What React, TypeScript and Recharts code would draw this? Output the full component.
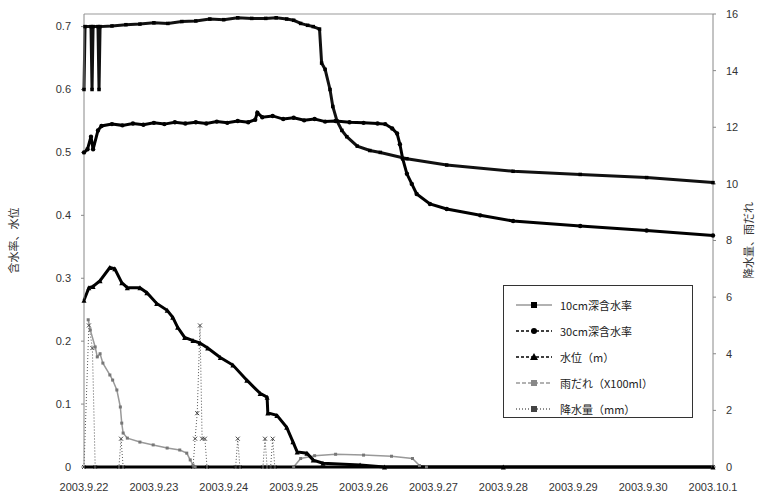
import { ComposedChart, Line, XAxis, YAxis, ReferenceLine } from 'recharts'

// x = days since 2003.9.22 0:00
const xTickLabels = [
  '2003.9.22', '2003.9.23', '2003.9.24', '2003.9.25', '2003.9.26',
  '2003.9.27', '2003.9.28', '2003.9.29', '2003.9.30', '2003.10.1',
]
const dayTicks = [0, 1, 2, 3, 4, 5, 6, 7, 8, 9]
const leftTicks = [0, 0.1, 0.2, 0.3, 0.4, 0.5, 0.6, 0.7]
const rightTicks = [0, 2, 4, 6, 8, 10, 12, 14, 16]

// 10cm深含水率 (left axis)
const moisture10: [number, number][] = [
  [0, 0.6], [0.015, 0.7], [0.1, 0.7], [0.115, 0.6], [0.13, 0.7], [0.2, 0.7], [0.215, 0.6],
  [0.23, 0.7], [0.4, 0.701], [0.6, 0.703], [0.8, 0.704], [1.0, 0.706], [1.2, 0.705],
  [1.4, 0.708], [1.6, 0.709], [1.8, 0.712], [2.0, 0.711], [2.2, 0.714], [2.4, 0.713],
  [2.6, 0.713], [2.75, 0.714], [2.9, 0.712], [3.0, 0.71], [3.1, 0.705], [3.2, 0.702],
  [3.28, 0.7], [3.37, 0.696], [3.4, 0.642], [3.45, 0.632], [3.52, 0.6], [3.56, 0.573],
  [3.62, 0.55], [3.69, 0.535], [3.76, 0.525], [3.91, 0.51], [4.09, 0.503], [4.24, 0.5],
  [4.62, 0.49], [5.19, 0.48], [6.14, 0.47], [7.1, 0.465], [8.05, 0.46], [9.0, 0.452],
]

// 30cm深含水率 (left axis)
const moisture30: [number, number][] = [
  [0, 0.5], [0.05, 0.505], [0.1, 0.525], [0.13, 0.505], [0.2, 0.535], [0.25, 0.542],
  [0.4, 0.545], [0.55, 0.543], [0.7, 0.546], [0.85, 0.544], [1.0, 0.547], [1.15, 0.545],
  [1.3, 0.548], [1.45, 0.546], [1.6, 0.548], [1.75, 0.546], [1.9, 0.549], [2.05, 0.547],
  [2.2, 0.55], [2.35, 0.548], [2.45, 0.552], [2.48, 0.563], [2.55, 0.556], [2.7, 0.558],
  [2.85, 0.553], [3.0, 0.555], [3.15, 0.551], [3.3, 0.553], [3.45, 0.549], [3.6, 0.55],
  [3.8, 0.548], [4.0, 0.547], [4.2, 0.546], [4.31, 0.545], [4.41, 0.538], [4.48, 0.53],
  [4.52, 0.513], [4.56, 0.49], [4.62, 0.466], [4.69, 0.45], [4.76, 0.434], [4.95, 0.418],
  [5.19, 0.41], [5.67, 0.4], [6.14, 0.391], [7.1, 0.383], [8.05, 0.376], [9.0, 0.368],
]

// 水位（m） (left axis)
const waterLevel: [number, number][] = [
  [0, 0.265], [0.07, 0.285], [0.13, 0.287], [0.23, 0.296], [0.37, 0.317], [0.44, 0.315],
  [0.54, 0.293], [0.62, 0.285], [0.8, 0.285], [0.9, 0.277], [1.04, 0.26], [1.19, 0.249],
  [1.27, 0.238], [1.34, 0.222], [1.44, 0.206], [1.56, 0.201], [1.66, 0.197], [1.77, 0.189],
  [1.95, 0.174], [2.13, 0.162], [2.33, 0.138], [2.52, 0.117], [2.62, 0.111], [2.63, 0.086],
  [2.76, 0.082], [2.9, 0.063], [2.99, 0.04], [3.05, 0.024], [3.19, 0.022], [3.28, 0.011],
  [3.42, 0.006], [3.95, 0.003], [4.3, 0], [6.0, 0], [9.0, 0],
]

// 雨だれ（X100ml） (right axis)
const dripWater: [number, number][] = [
  [0.06, 5.2], [0.09, 4.84], [0.16, 4.24], [0.19, 3.89], [0.23, 4.0], [0.27, 3.67],
  [0.37, 3.25], [0.41, 3.07], [0.47, 2.72], [0.52, 2.12], [0.54, 1.55], [0.56, 1.2],
  [0.62, 1.02], [0.8, 0.88], [0.99, 0.78], [1.19, 0.67], [1.37, 0.6], [1.47, 0.49],
  [1.52, 0.25], [1.56, 0.07], [1.59, 0], [3.0, 0], [3.1, 0.3], [3.3, 0.4], [3.6, 0.45],
  [4.0, 0.42], [4.4, 0.38], [4.7, 0.3], [4.8, 0.05], [4.9, 0], [9.0, 0],
]

// 降水量（mm） (right axis)
const rainfall: [number, number][] = [
  [0, 0], [0.07, 5.0], [0.12, 4.2], [0.16, 0], [0.5, 0], [0.53, 1.0], [0.56, 0],
  [1.56, 0], [1.59, 1.0], [1.62, 1.9], [1.66, 5.0], [1.69, 1.0], [1.73, 1.0], [1.76, 0],
  [2.17, 0], [2.2, 1.0], [2.23, 0], [2.56, 0], [2.59, 1.0], [2.62, 0], [2.67, 0],
  [2.7, 1.0], [2.73, 0], [9.0, 0],
]

const rows = (pts: [number, number][]) => pts.map(([d, v]) => ({ d, v }))

const square = (size: number, fill: string) => (p: any) => (
  <rect key={`s${p.index}`} x={p.cx - size / 2} y={p.cy - size / 2} width={size} height={size} fill={fill} />
)
const circle = (r: number, fill: string) => (p: any) => (
  <circle key={`c${p.index}`} cx={p.cx} cy={p.cy} r={r} fill={fill} />
)
const triangle = (s: number, fill: string) => (p: any) => (
  <path key={`t${p.index}`} d={`M${p.cx},${p.cy - s} L${p.cx + s},${p.cy + s} L${p.cx - s},${p.cy + s}Z`} fill={fill} />
)
const cross = (s: number, stroke: string) => (p: any) => (
  <path key={`x${p.index}`} d={`M${p.cx - s},${p.cy - s} L${p.cx + s},${p.cy + s} M${p.cx - s},${p.cy + s} L${p.cx + s},${p.cy - s}`} stroke={stroke} strokeWidth={1} />
)

const legendItems = [
  { name: '10cm深含水率', line: '#999', dash: undefined, mark: 'square', mc: '#000' },
  { name: '30cm深含水率', line: '#000', dash: '3 2', mark: 'circle', mc: '#000' },
  { name: '水位（m）', line: '#000', dash: '3 2', mark: 'triangle', mc: '#000' },
  { name: '雨だれ（X100ml）', line: '#999', dash: '4 2', mark: 'square', mc: '#888' },
  { name: '降水量（mm）', line: '#666', dash: '1 2', mark: 'square', mc: '#444' },
]

function LegendBox() {
  return (
    <div style={{
      position: 'absolute', left: 503, top: 285,
      border: '1px solid #333', background: '#fff', width: 190, height: 133,
      boxSizing: 'border-box', padding: '6px 0 0 10px',
      fontFamily: '"Noto Sans CJK JP", "Noto Sans", sans-serif', fontSize: 11, color: '#222',
    }}>
      {legendItems.map((it) => (
        <div key={it.name} style={{ display: 'flex', alignItems: 'center', height: 26 }}>
          <svg width={40} height={10} style={{ marginRight: 6 }}>
            <line x1={2} y1={5} x2={38} y2={5} stroke={it.line} strokeWidth={1.5} strokeDasharray={it.dash} />
            {it.mark === 'square' && <rect x={17} y={2} width={6} height={6} fill={it.mc} />}
            {it.mark === 'circle' && <circle cx={20} cy={5} r={3} fill={it.mc} />}
            {it.mark === 'triangle' && <path d="M20,1 L24,8 L16,8Z" fill={it.mc} />}
          </svg>
          <span>{it.name}</span>
        </div>
      ))}
    </div>
  )
}

const tickStyle = { fontSize: 11, fill: '#333', fontFamily: '"Liberation Sans", Arial, sans-serif' }
const titleStyle = { fontSize: 11, fill: '#333', fontFamily: '"Noto Sans CJK JP", sans-serif' }

export default function App() {
  return (
    <div style={{ position: 'absolute', left: 0, top: 0, width: 769, height: 495, background: '#fff' }}>
      <ComposedChart width={769} height={495} margin={{ top: 14, right: 0, left: 0, bottom: 0 }}>
        <XAxis
          xAxisId="x"
          type="number"
          dataKey="d"
          domain={[0, 9]}
          ticks={dayTicks}
          tickFormatter={(v: number) => xTickLabels[v] ?? ''}
          tick={tickStyle}
          height={28}
          tickSize={0}
          tickMargin={16}
          axisLine={{ stroke: '#000', strokeWidth: 3 }}
          interval={0}
        />
        <YAxis
          yAxisId="left"
          type="number"
          domain={[0, 0.72]}
          ticks={leftTicks}
          width={84}
          tick={tickStyle}
          tickSize={3}
          tickMargin={10}
          tickFormatter={(v: number) => (v === 0 ? '0' : v.toFixed(1))}
          axisLine={{ stroke: '#888' }}
          tickLine={{ stroke: '#888' }}
          label={{ value: '含水率、水位', angle: -90, position: 'center', dx: -28, style: titleStyle }}
        />
        <YAxis
          yAxisId="right"
          orientation="right"
          type="number"
          domain={[0, 16]}
          ticks={rightTicks}
          width={56}
          tick={tickStyle}
          tickSize={3}
          tickMargin={10}
          axisLine={{ stroke: '#888' }}
          tickLine={{ stroke: '#888' }}
          label={{ value: '降水量、雨だれ', angle: -90, position: 'center', dx: 8, style: titleStyle }}
        />
        <ReferenceLine xAxisId="x" yAxisId="left" y={0.72} stroke="#999" />
        <Line
          xAxisId="x" yAxisId="right" data={rows(rainfall)} dataKey="v" type="linear"
          stroke="#555" strokeWidth={1} strokeDasharray="1 2" dot={cross(2, '#444')}
          isAnimationActive={false}
        />
        <Line
          xAxisId="x" yAxisId="right" data={rows(dripWater)} dataKey="v" type="linear"
          stroke="#999" strokeWidth={1.5} dot={square(3, '#777')}
          isAnimationActive={false}
        />
        <Line
          xAxisId="x" yAxisId="left" data={rows(waterLevel)} dataKey="v" type="linear"
          stroke="#000" strokeWidth={3} dot={triangle(2.5, '#000')}
          isAnimationActive={false}
        />
        <Line
          xAxisId="x" yAxisId="left" data={rows(moisture30)} dataKey="v" type="linear"
          stroke="#000" strokeWidth={3} dot={circle(2.2, '#000')}
          isAnimationActive={false}
        />
        <Line
          xAxisId="x" yAxisId="left" data={rows(moisture10)} dataKey="v" type="linear"
          stroke="#111" strokeWidth={3} dot={square(3.5, '#000')}
          isAnimationActive={false}
        />
      </ComposedChart>
      <LegendBox />
    </div>
  )
}
